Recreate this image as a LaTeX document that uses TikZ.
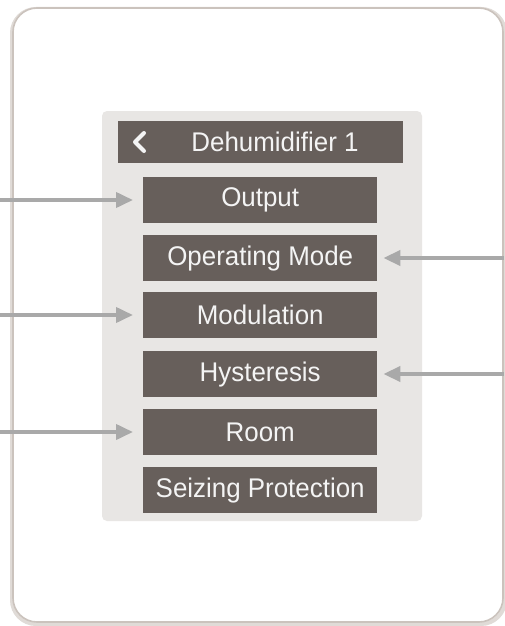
\documentclass[tikz,border=0pt]{standalone}
\usepackage{fontspec}
\setmainfont{Liberation Sans}
\usetikzlibrary{arrows.meta}
\definecolor{boxc}{HTML}{675F5B}
\definecolor{panelc}{HTML}{E8E6E4}
\definecolor{arrc}{HTML}{A9A9A9}
\definecolor{framec}{HTML}{CBC3BD}
\definecolor{txtc}{HTML}{F4F4F4}
\newcommand{\sq}[1]{\scalebox{0.96}[1]{#1}}
\tikzset{
  menubox/.style={fill=boxc, draw=none, minimum width=234pt, minimum height=46pt,
    inner sep=0pt, text=txtc, font=\fontsize{27}{30}\selectfont, anchor=north west},
  arr/.style={draw=arrc, line width=3.8pt, -{Triangle[length=17pt,width=15pt]}, shorten >=0pt}
}
\begin{document}
\begin{tikzpicture}[x=1pt,y=-1pt]
\useasboundingbox (0,0) rectangle (504,626);
\fill[white] (0,0) rectangle (504,626);
% outer frame with soft shadow
\draw[framec!60, line width=4pt, rounded corners=24pt] (12,9) rectangle (505,624);
\draw[framec, line width=1.6pt, rounded corners=24pt, fill=white] (13,8) rectangle (503,622);
% panel
\fill[panelc, rounded corners=5pt] (102,111) rectangle (422,521);
% header
\node[fill=boxc, minimum width=285pt, minimum height=42pt, inner sep=0pt, anchor=north west] (hdr) at (118,121) {};
\node[text=txtc, font=\fontsize{27}{30}\selectfont] (hdrt) at (275,142) {\sq{Dehumidifier 1}};
\draw[txtc, line width=4pt, line cap=round, line join=round] (144,133) -- (135,142) -- (144,151);
% menu items
\node[menubox] (out) at (143,177) {\sq{Output}};
\node[menubox] (op) at (143,235) {\sq{Operating Mode}};
\node[menubox] (mod) at (143,292) {\sq{Modulation}};
\node[menubox] (hys) at (143,351) {\sq{Hysteresis}};
\node[menubox] (room) at (143,409) {\sq{Room}};
\node[menubox] (seiz) at (143,467) {\sq{Seizing Protection}};
% arrow endpoints
\coordinate (l1) at (0,200);
\coordinate (l2) at (0,315);
\coordinate (l3) at (0,432);
\coordinate (r1) at (504,258);
\coordinate (r2) at (504,374);
\draw[arr] (l1) -- ([xshift=-10pt]out.west |- l1);
\draw[arr] (l2) -- ([xshift=-10pt]mod.west |- l2);
\draw[arr] (l3) -- ([xshift=-10pt]room.west |- l3);
\draw[arr] (r1) -- ([xshift=6pt]op.east |- r1);
\draw[arr] (r2) -- ([xshift=6pt]hys.east |- r2);
\end{tikzpicture}
\end{document}
